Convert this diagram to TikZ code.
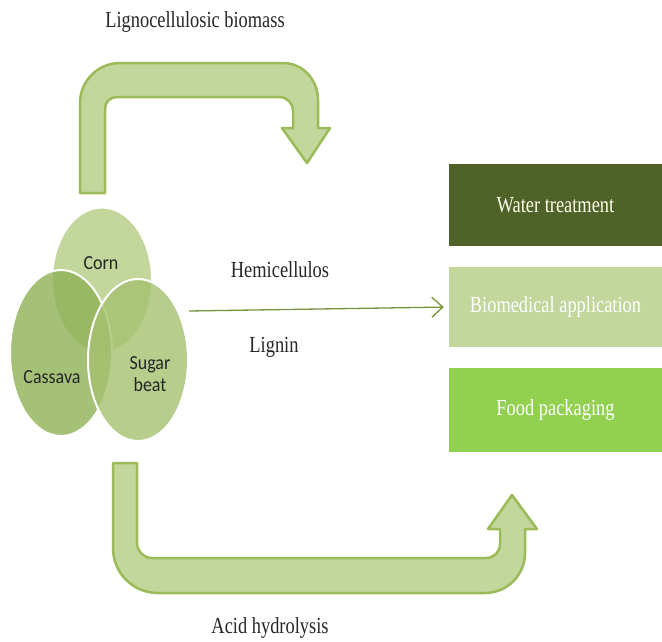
\documentclass[tikz,border=0pt]{standalone}
\usepackage{fontspec}
\usepackage{graphicx}
\setmainfont{Liberation Serif}
\newfontfamily\carlito{Carlito}
\usetikzlibrary{arrows.meta,shapes.geometric}
\newcommand\condtext[1]{\scalebox{0.8}[1]{#1}}
\newcommand\condblob[1]{\scalebox{0.9}[1]{#1}}
\definecolor{bandfill}{HTML}{C3D69B}
\definecolor{bandline}{HTML}{9BBB59}
\definecolor{cornc}{RGB}{180,204,130}
\definecolor{cassc}{RGB}{143,177,86}
\definecolor{sugarc}{RGB}{164,193,111}
\definecolor{darkolive}{HTML}{4F6228}
\definecolor{lightolive}{HTML}{C3D69B}
\definecolor{brightgreen}{HTML}{92D050}
\definecolor{arrowc}{HTML}{77933C}
\definecolor{txtc}{HTML}{262626}
\begin{document}
\begin{tikzpicture}[x=1pt,y=-1pt,
  band/.style={fill=bandfill,draw=bandline,line width=2.5pt,line join=round},
  blob/.style={ellipse,draw=white,line width=2pt,fill opacity=0.8,inner sep=0pt},
  blobtext/.style={font=\carlito\fontsize{20}{22}\selectfont,text=txtc,align=center},
  caption/.style={font=\fontsize{23}{25}\selectfont,text=txtc},
  appbox/.style={minimum width=213pt,minimum height=82pt,inner sep=0pt,text=white,font=\fontsize{23}{25}\selectfont}
]
\useasboundingbox (0,0) rectangle (662,641);
\fill[white] (0,0) rectangle (662,641);

% top bent arrow
\draw[band] (80,193) -- (80,103) .. controls (80,81) and (98,63) .. (120,63)
  -- (283,63) .. controls (303,63) and (318,80) .. (318,100) -- (318,128)
  -- (330,128) -- (307,163) -- (282,128) -- (293,128) -- (293,111)
  .. controls (293,103) and (287,97) .. (279,97) -- (117,97)
  .. controls (110,97) and (105,102) .. (105,109) -- (105,193) -- cycle;

% bottom bent arrow
\draw[band] (113,463) -- (113,548) .. controls (113,573) and (133,593) .. (158,593)
  -- (485,593) .. controls (507,593) and (525,575) .. (525,553) -- (525,529)
  -- (537,529) -- (512,495) -- (488,529) -- (500,529) -- (500,544)
  .. controls (500,552) and (494,558) .. (486,558) -- (152,558)
  .. controls (144,558) and (137,551) .. (137,543) -- (137,463) -- cycle;

% ellipses
\node[blob,fill=cornc,minimum width=100pt,minimum height=145pt] (corn) at (102,280) {};
\node[blob,fill=cassc,minimum width=102pt,minimum height=166pt] (cassava) at (61,353) {};
\node[blob,fill=sugarc,minimum width=100pt,minimum height=162pt] (sugar) at (138,360) {};
\node[blobtext] (corntxt) at (101,263) {\condblob{Corn}};
\node[blobtext] (casstxt) at (52,377) {\condblob{Cassava}};
\node[blobtext,text depth=0pt] (sugartxt) at (150,374) {\condblob{Sugar}\\[0pt]\condblob{beat}};

% application boxes
\node[appbox,fill=darkolive,text=white!92!yellow] (water) at (555.5,205) {\condtext{Water treatment}};
\node[appbox,fill=lightolive,minimum height=80pt] (bio) at (555.5,307) {\condtext{Biomedical application}};
\node[appbox,fill=brightgreen,minimum height=84pt] (food) at (555.5,410) {\condtext{Food packaging}};

% thin arrow
\coordinate (src) at (189,311);
\draw[arrowc,line width=1.3pt,-{Straight Barb[length=11pt,width=20pt,line width=1.3pt]},shorten >=5pt] (src) -- (bio.west);

% captions
\node[caption] (lig) at (195,22) {\condtext{Lignocellulosic biomass}};
\node[caption] (acid) at (270,628) {\condtext{Acid hydrolysis}};
\node[caption] (hemi) at (280,270) {\condtext{Hemicellulos}};
\node[caption] (lign) at (274,347) {\condtext{Lignin}};
\end{tikzpicture}
\end{document}
